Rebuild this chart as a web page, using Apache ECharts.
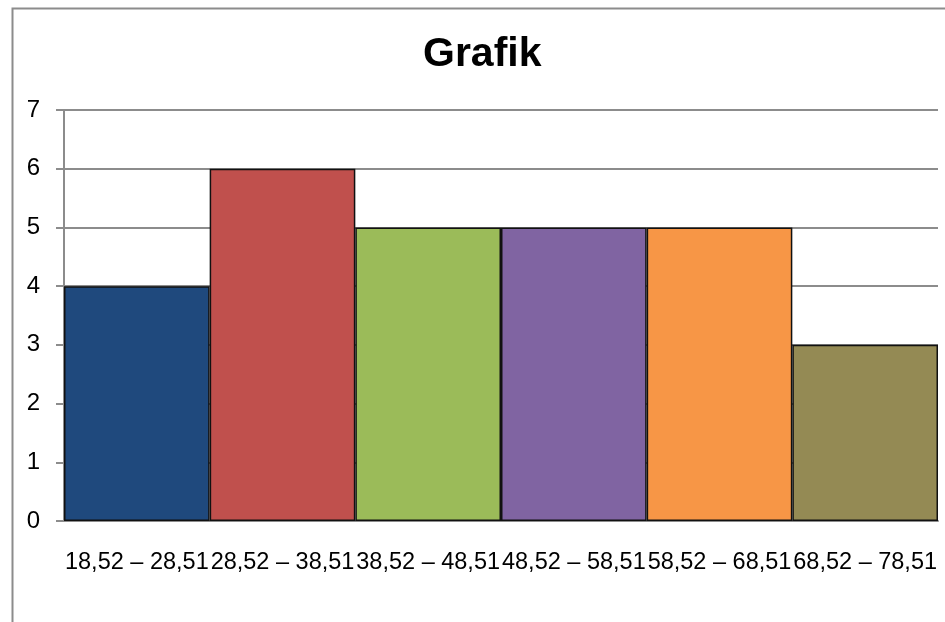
<!DOCTYPE html>
<html>
<head>
<meta charset="utf-8">
<script src="https://cdn.jsdelivr.net/npm/echarts@6/dist/echarts.min.js"></script>
<style>
  html, body { margin: 0; padding: 0; background: #fff; }
  #chart { width: 945px; height: 622px; }
</style>
</head>
<body>
<div id="chart"></div>
<script>
// Class intervals and their frequencies
const categories = ['18,52 – 28,51', '28,52 – 38,51', '38,52 – 48,51', '48,52 – 58,51', '58,52 – 68,51', '68,52 – 78,51'];
const frequencies = [4, 6, 5, 5, 5, 3];
const barColors = ['#1F497D', '#C0504D', '#9BBB59', '#8064A2', '#F79646', '#948A54'];
const yTicks = { min: 0, max: 7, interval: 1 };

const font = '"Liberation Sans", Arial, sans-serif';
const lineGray = '#8c8c8c';

const chart = echarts.init(document.getElementById('chart'), null, { renderer: 'canvas' });

chart.setOption({
  animation: false,
  backgroundColor: '#fff',
  graphic: [{
    type: 'rect',
    left: 10, top: 6,
    shape: { width: 1000, height: 1000 },
    style: { fill: 'none', stroke: lineGray, lineWidth: 2 },
    silent: true
  }],
  title: {
    text: 'Grafik',
    left: 423, top: 34, padding: 0,
    textStyle: { fontFamily: font, fontWeight: 'bold', fontSize: 41, color: '#000' }
  },
  grid: { left: 64, right: 7, top: 110, bottom: 101, containLabel: false },
  xAxis: {
    type: 'category',
    data: categories,
    axisLine: { show: true, lineStyle: { color: lineGray, width: 2 } },
    axisTick: { show: false },
    axisLabel: { interval: 0, margin: 30, color: '#000', fontFamily: font, fontSize: 23.5 }
  },
  yAxis: {
    type: 'value',
    min: yTicks.min, max: yTicks.max, interval: yTicks.interval,
    axisLine: { show: true, lineStyle: { color: lineGray, width: 2 } },
    axisTick: { show: true, length: 8, lineStyle: { color: lineGray, width: 2 } },
    splitLine: { show: true, lineStyle: { color: lineGray, width: 2 } },
    axisLabel: { margin: 24, color: '#000', fontFamily: font, fontSize: 24 }
  },
  series: [{
    type: 'bar',
    barCategoryGap: '0%',
    data: frequencies.map((v, i) => ({
      value: v,
      itemStyle: { color: barColors[i], borderColor: '#111', borderWidth: 1.5 }
    }))
  }]
});
</script>
</body>
</html>
